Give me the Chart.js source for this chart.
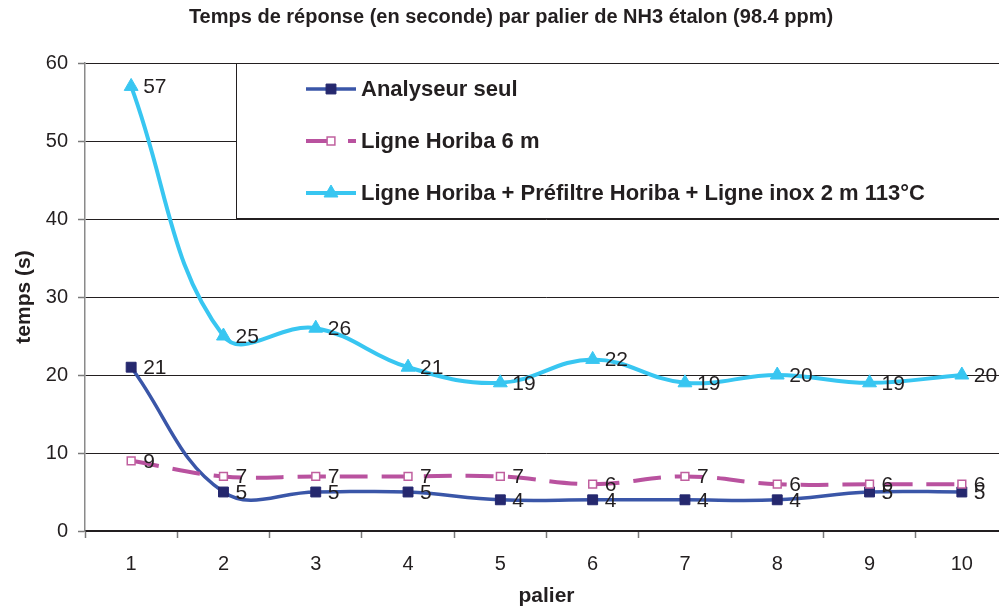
<!DOCTYPE html>
<html>
<head>
<meta charset="utf-8">
<script src="https://cdn.jsdelivr.net/npm/chart.js@4/dist/chart.umd.min.js"></script>
<style>
  html, body { margin: 0; padding: 0; background: #fff; overflow: hidden; }
  #wrap { width: 999px; height: 609px; overflow: hidden; }
  canvas { display: block; }
</style>
</head>
<body>
<div id="wrap"><canvas id="c" width="1017" height="609"></canvas></div>
<script>
// Paliers of the NH3 reference gas
const paliers = ['1', '2', '3', '4', '5', '6', '7', '8', '9', '10'];
// Response times in seconds for each configuration
const analyseurSeul = [21, 5, 5, 5, 4, 4, 4, 4, 5, 5];
const ligneHoriba6m = [9, 7, 7, 7, 7, 6, 7, 6, 6, 6];
const ligneComplete = [57, 25, 26, 21, 19, 22, 19, 20, 19, 20];
const yTicks = [0, 10, 20, 30, 40, 50, 60];

const seriesNames = [
  'Analyseur seul',
  'Ligne Horiba 6 m',
  'Ligne Horiba + Préfiltre Horiba + Ligne inox 2 m 113°C'
];

const FONT = "'Liberation Sans', Arial, Helvetica, sans-serif";
const TXT = '#231f20';

// Chart title, legend box and point labels
const decorations = {
  id: 'decorations',
  afterDatasetsDraw(chart) {
    const ctx = chart.ctx;
    const area = chart.chartArea;
    ctx.save();

    // value labels to the right of each point
    ctx.font = '21px ' + FONT;
    ctx.fillStyle = TXT;
    ctx.textAlign = 'left';
    ctx.textBaseline = 'middle';
    chart.data.datasets.forEach((ds, i) => {
      const meta = chart.getDatasetMeta(i);
      meta.data.forEach((pt, j) => {
        ctx.fillText(String(ds.data[j]), pt.x + 12, pt.y + 1);
      });
    });

    // legend box
    const bx = 236.5, by = area.top, bw = 800, bh = 155;
    ctx.fillStyle = '#fff';
    ctx.fillRect(bx, by, bw, bh);
    ctx.strokeStyle = '#231f20';
    ctx.lineWidth = 1;
    ctx.strokeRect(bx, by + 0.5, bw, bh);

    const rows = [89, 141, 193];
    chart.data.datasets.forEach((ds, i) => {
      const y = rows[i];
      ctx.save();
      ctx.strokeStyle = ds.borderColor;
      ctx.lineWidth = ds.borderWidth;
      ctx.setLineDash(ds.borderDash || []);
      ctx.lineCap = 'butt';
      ctx.beginPath();
      ctx.moveTo(306, y);
      ctx.lineTo(356, y);
      ctx.stroke();
      ctx.restore();
      ctx.fillStyle = ds.pointBackgroundColor;
      ctx.strokeStyle = ds.pointBorderColor;
      ctx.lineWidth = ds.pointBorderWidth;
      ctx.beginPath();
      Chart.helpers.drawPoint(ctx, {
        pointStyle: ds.pointStyle,
        radius: ds.pointRadius,
        borderWidth: ds.pointBorderWidth
      }, 331, y);
      ctx.fillStyle = TXT;
      ctx.font = 'bold 22px ' + FONT;
      ctx.textBaseline = 'middle';
      ctx.fillText(seriesNames[i], 361, y + 1);
    });

    // title
    ctx.font = 'bold 20px ' + FONT;
    ctx.textAlign = 'center';
    ctx.textBaseline = 'middle';
    ctx.fillStyle = TXT;
    ctx.fillText('Temps de réponse (en seconde) par palier de NH3 étalon (98.4 ppm)', 511, 17);
    ctx.restore();
  }
};

new Chart(document.getElementById('c'), {
  type: 'line',
  data: {
    labels: paliers,
    datasets: [
      {
        label: seriesNames[0],
        data: analyseurSeul,
        borderColor: '#3a56a8',
        borderWidth: 3.5,
        pointStyle: 'rect',
        pointRadius: 7,
        pointBackgroundColor: '#25286e',
        pointBorderColor: '#25286e',
        pointBorderWidth: 1,
        tension: 0.4,
        order: 3
      },
      {
        label: seriesNames[1],
        data: ligneHoriba6m,
        borderColor: '#b9529f',
        borderWidth: 4,
        borderDash: [28, 14],
        pointStyle: 'rect',
        pointRadius: 5.5,
        pointBackgroundColor: '#ffffff',
        pointBorderColor: '#c0609f',
        pointBorderWidth: 1.5,
        tension: 0.4,
        order: 2
      },
      {
        label: seriesNames[2],
        data: ligneComplete,
        borderColor: '#38c6f1',
        borderWidth: 4,
        pointStyle: 'triangle',
        pointRadius: 8,
        pointBackgroundColor: '#38c6f1',
        pointBorderColor: '#38c6f1',
        pointBorderWidth: 1,
        tension: 0.4,
        order: 1
      }
    ]
  },
  options: {
    responsive: false,
    animation: false,
    devicePixelRatio: 1,
    layout: { padding: { top: 63, right: 2, bottom: 0, left: 0 } },
    plugins: {
      legend: { display: false },
      title: { display: false },
      tooltip: { enabled: false }
    },
    scales: {
      x: {
        type: 'category',
        offset: true,
        afterFit(scale) { scale.height = 78; },
        grid: {
          offset: true,
          drawOnChartArea: false,
          drawTicks: true,
          tickLength: 7,
          tickColor: '#7a7a7a',
          tickWidth: 1.5
        },
        border: { color: '#231f20', width: 1.5 },
        ticks: {
          color: TXT,
          font: { family: FONT, size: 20 },
          padding: 14,
          maxRotation: 0
        },
        title: {
          display: true,
          text: 'palier',
          color: TXT,
          font: { family: FONT, size: 21, weight: 'bold' },
          padding: { top: 0, bottom: 0 }
        }
      },
      y: {
        min: 0,
        max: 60,
        afterFit(scale) { scale.width = 85; },
        afterBuildTicks(scale) { scale.ticks = yTicks.map(v => ({ value: v })); },
        grid: {
          color: '#231f20',
          lineWidth: 1,
          drawTicks: true,
          tickLength: 7,
          tickColor: '#7a7a7a',
          tickWidth: 1.5
        },
        border: { color: '#8a8a8a', width: 1.5 },
        ticks: {
          color: TXT,
          font: { family: FONT, size: 20 },
          padding: 10
        },
        title: {
          display: true,
          text: 'temps (s)',
          color: TXT,
          font: { family: FONT, size: 21, weight: 'bold' },
          padding: { top: 12, bottom: 0 }
        }
      }
    }
  },
  plugins: [decorations]
});
</script>
</body>
</html>
